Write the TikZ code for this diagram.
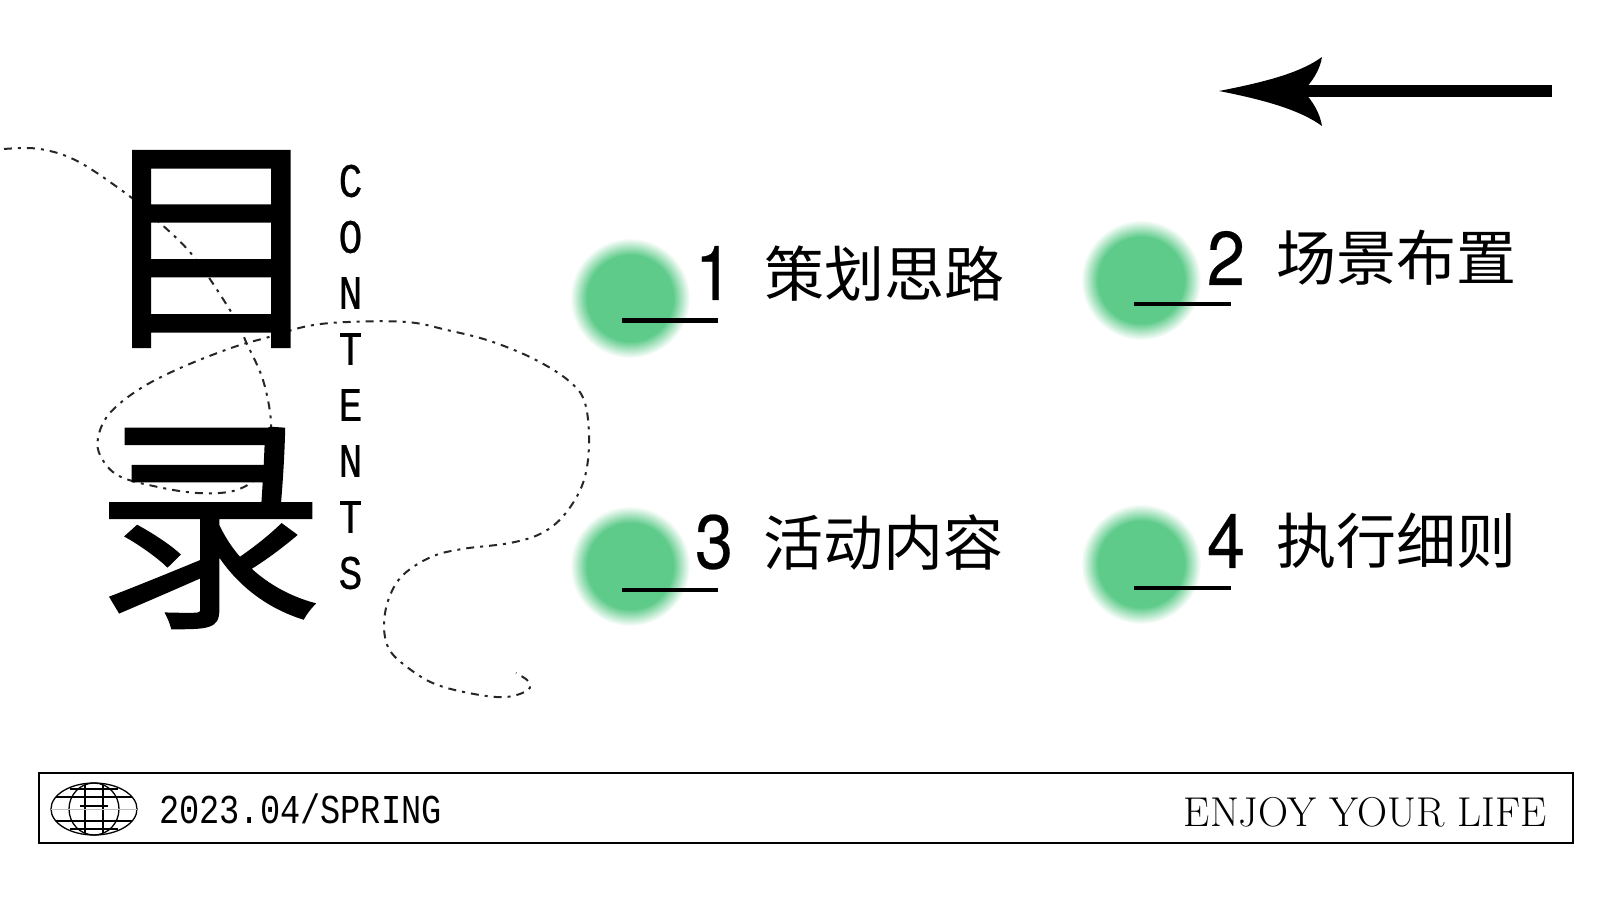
\documentclass[tikz,border=0pt]{standalone}
\usepackage{fontspec}
\newfontfamily\cjkfont{Noto Sans CJK SC}
\newfontfamily\headfont[FakeBold=0.7]{Noto Sans CJK SC}
\newfontfamily\numfont[FakeStretch=0.9,FakeBold=0.3]{TeX Gyre Heros}
\newfontfamily\narrowfont[FakeStretch=0.82]{Liberation Mono}
\newfontfamily\letterfont[FakeStretch=0.82,FakeBold=0.5]{Liberation Mono}
\definecolor{dotgreen}{RGB}{94,203,138}
\pgfdeclareradialshading{greenblur}{\pgfpoint{0bp}{0bp}}{
  color(0bp)=(dotgreen); color(18bp)=(dotgreen); color(25bp)=(white); color(50bp)=(white)}
\tikzset{
  dot/.style={shading=greenblur},
  rule/.style={line width=4.5pt,black},
  num/.style={anchor=center,inner sep=0pt,font=\numfont\fontsize{76}{76}\selectfont},
  item/.style={anchor=center,inner sep=0pt,font=\cjkfont\fontsize{60}{60}\selectfont},
  head/.style={anchor=center,inner sep=0pt,font=\headfont\fontsize{231}{231}\selectfont},
  letter/.style={anchor=center,inner sep=0pt,font=\letterfont\fontsize{48}{48}\selectfont},
  grid/.style={line width=1.3pt,black}
}
\begin{document}
\begin{tikzpicture}[x=1pt,y=-1pt]
  \useasboundingbox (0,0) rectangle (1600,900);
  % green dots
  \shade[dot] (630,298) circle (60);
  \shade[dot] (1141,280) circle (60);
  \shade[dot] (630,566) circle (60);
  \shade[dot] (1141,564) circle (60);
  % dashed line
  \draw[line width=2pt,dash pattern=on 8pt off 6pt on 3pt off 6pt,black!85] plot[smooth,tension=0.6] coordinates {
    (4,149) (40,149) (79,162) (132,198) (158,221) (194,257) (233,315) (247,344) (263,380) (271,422)
    (268,458) (257,478) (233,491) (198,493) (158,487) (119,476) (101,457) (98,438) (109,414) (138,390)
    (178,369) (231,348) (269,337) (308,326) (348,322) (407,322) (447,330) (490,341) (534,359) (569,381)
    (585,403) (589,445) (583,483) (565,514) (542,533) (510,543) (462,549) (431,557) (403,575) (389,598)
    (384,625) (389,649) (407,667) (435,684) (474,694) (506,697) (528,690) (528,681) (516,673)};
  % title
  \node[head] (mu) at (212,249) {目};
  \node[head] (lu) at (210,528) {录};
  \foreach \ch [count=\i from 0] in {C,O,N,T,E,N,T,S}
    \node[letter] (c\i) at (350.5,{181+56*\i}) {\ch};
  % items
  \draw[rule] (622,320.5) -- (718,320.5);
  \draw[rule] (1134,304) -- (1231,304);
  \draw[rule] (622,590) -- (718,590);
  \draw[rule] (1134,588) -- (1231,588);
  \node[num] (n1) at (714,273) {1};
  \node[num] (n2) at (1226,258) {2};
  \node[num] (n3) at (714,542) {3};
  \node[num] (n4) at (1226,541) {4};
  \node[item] (t1) at (884,274) {策划思路};
  \node[item] (t2) at (1396,258) {场景布置};
  \node[item] (t3) at (883,543) {活动内容};
  \node[item] (t4) at (1396,541) {执行细则};
  % arrow
  \coordinate (tip) at (1219,91);
  \coordinate (tail) at (1552,91);
  \draw[line width=11.5pt] (1300,91) -- (tail);
  \fill (tip) .. controls (1265,82) and (1300,73) .. (1322,57)
    .. controls (1320,70) and (1312,82) .. (1303,91)
    .. controls (1312,100) and (1320,113) .. (1322,126)
    .. controls (1300,110) and (1265,100) .. (tip) -- cycle;
  % bottom bar
  \node[draw,line width=1.6pt,minimum width=1534pt,minimum height=70pt,inner sep=0pt,anchor=north west] (bar) at (38,772) {};
  \node[anchor=west,inner sep=0pt,font=\narrowfont\fontsize{41}{41}\selectfont] (date) at (159,809) {2023.04/SPRING};
  \node[anchor=east,inner sep=0pt,font=\rmfamily\fontsize{41.7}{41.7}\selectfont] (enjoy) at (1547,812) {ENJOY YOUR LIFE};
  % globe
  \begin{scope}[shift={(94,809)}]
   \draw[grid] (0,0) ellipse (43 and 26);
   \draw[grid] (0,0) ellipse (25 and 26);
   \draw[grid] (-9,-24) -- (-9,24);
   \draw[grid] (9,-24) -- (9,24);
   \draw[grid] (-38,-12) -- (38,-12);
   \draw[grid] (-38,12) -- (38,12);
   \draw[grid] (-24,-20) -- (24,-20);
   \draw[grid] (-24,20) -- (24,20);
   \draw[grid] (-14,-3) -- (14,-3);
   \draw[line width=1pt,black!25] (-43,0) -- (43,0);
  \end{scope}
\end{tikzpicture}
\end{document}
